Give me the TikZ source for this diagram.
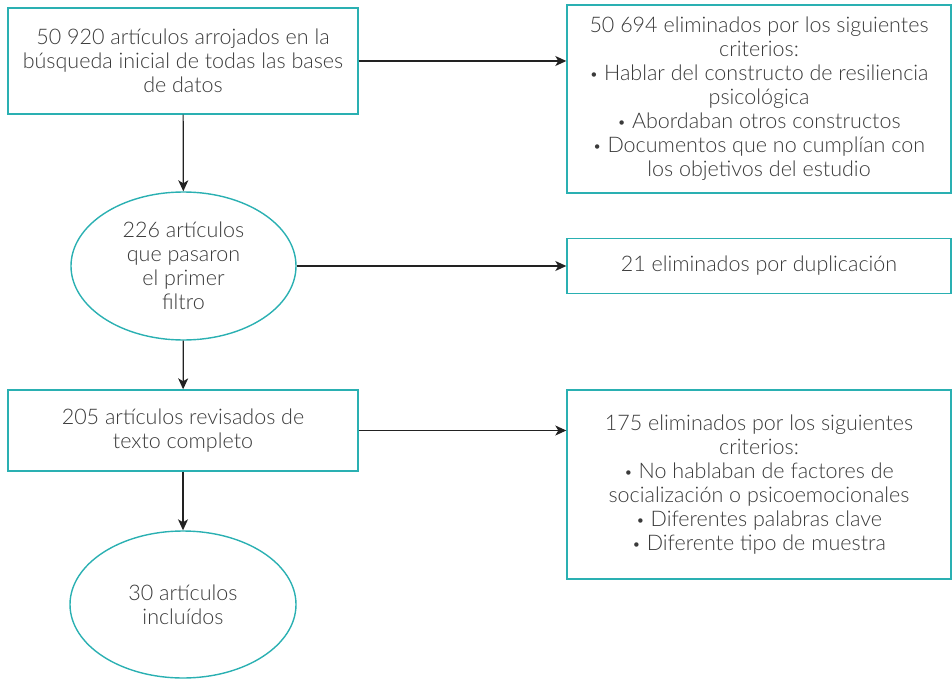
\documentclass[tikz,border=0pt]{standalone}
\usepackage{fontspec}
\setmainfont{Lato}[UprightFont=* Light]
\usetikzlibrary{shapes.geometric,arrows.meta}
\definecolor{teal}{HTML}{2AB0B2}
\definecolor{txt}{HTML}{3A3A3A}
\definecolor{arr}{HTML}{222222}
\newcommand{\bul}{\raisebox{0.1ex}{\scalebox{0.7}{•}}}
\tikzset{
  x=1pt,y=-1pt,
  every node/.style={font=\fontsize{21.5}{24}\selectfont, text=txt, align=center, inner sep=0pt},
  flowbox/.style={draw=teal, line width=1.4pt, rectangle},
  flowell/.style={draw=teal, line width=1.4pt, ellipse},
  conn/.style={draw=arr, line width=1.2pt, -{Stealth[length=11pt,width=10pt,inset=3pt]}}
}
\begin{document}
\begin{tikzpicture}
\useasboundingbox (0,0) rectangle (952,679);
\node[flowbox, minimum width=350pt, minimum height=106pt] (b1) at (183,61)
  {50 920 artículos arrojados en la\\búsqueda inicial de todas las bases\\de datos};
\node[flowell, minimum width=225pt, minimum height=148pt] (e1) at (183.5,266)
  {226 artículos\\que pasaron\\el primer\\filtro};
\node[flowbox, minimum width=350pt, minimum height=81pt] (b2) at (183,430.5)
  {205 artículos revisados de\\texto completo};
\node[flowell, minimum width=226pt, minimum height=147pt] (e2) at (183,604.5)
  {30 artículos\\incluídos};
\node[flowbox, minimum width=384pt, minimum height=188pt] (r1) at (759,99)
  {50 694 eliminados por los siguientes\\criterios:\\\bul{} Hablar del constructo de resiliencia\\psicológica\\\bul{} Abordaban otros constructos\\\bul{} Documentos que no cumplían con\\los objetivos del estudio};
\node[flowbox, minimum width=384pt, minimum height=55pt] (r2) at (759,266)
  {21 eliminados por duplicación};
\node[flowbox, minimum width=384pt, minimum height=189pt] (r3) at (759,484.5)
  {175 eliminados por los siguientes\\criterios:\\\bul{} No hablaban de factores de\\socialización o psicoemocionales\\\bul{} Diferentes palabras clave\\\bul{} Diferente tipo de muestra};
\draw[conn] (b1) -- (e1);
\draw[conn] (e1) -- (b2);
\draw[conn] (b2) -- (e2);
\draw[conn] (b1.east) -- (b1.east -| r1.west);
\draw[conn] (e1.east) -- (e1.east -| r2.west);
\draw[conn] (b2.east) -- (b2.east -| r3.west);
\end{tikzpicture}
\end{document}
